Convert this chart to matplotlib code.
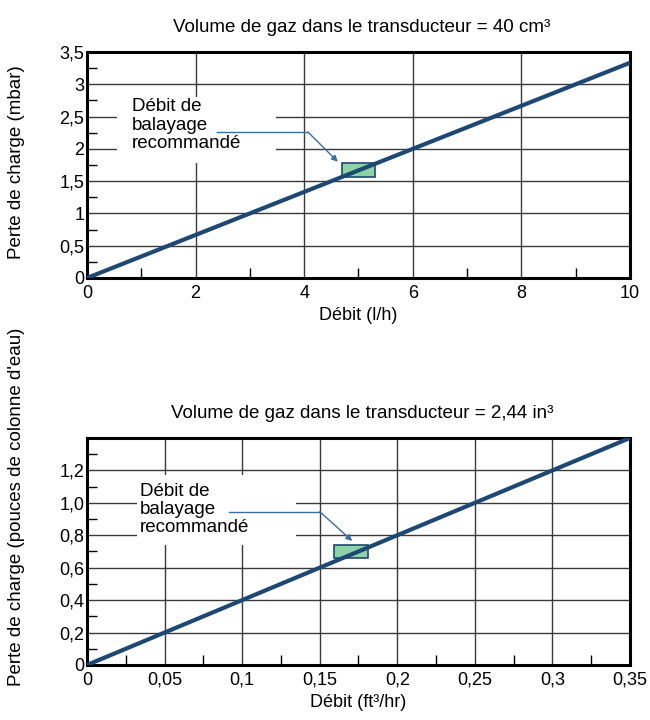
import numpy as np
import matplotlib.pyplot as plt
from matplotlib.patches import Rectangle
from matplotlib.ticker import MultipleLocator, FixedLocator

plt.rcParams['font.family'] = ['Liberation Sans', 'DejaVu Sans']

# metric chart
flow_lh = [0, 10]
dp_mbar = [0, 3.333]
xt_top = [0, 2, 4, 6, 8, 10]
xt_top_lab = ["0", "2", "4", "6", "8", "10"]
yt_top = [0, 0.5, 1, 1.5, 2, 2.5, 3, 3.5]
yt_top_lab = ["0", "0,5", "1", "1,5", "2", "2,5", "3", "3,5"]
reco_top = [4.7, 1.57, 0.6, 0.21]      # x, y, w, h
txtbox_top = [0.55, 1.78, 2.93, 1.02]
arrow_top = [(2.39, 2.26), (4.07, 2.26), (4.62, 1.80)]
txt_top = (0.83, 2.78)

# imperial chart
flow_ft = [0, 0.35]
dp_in = [0, 1.4]
xt_bot = [0, 0.05, 0.1, 0.15, 0.2, 0.25, 0.3, 0.35]
xt_bot_lab = ["0", "0,05", "0,1", "0,15", "0,2", "0,25", "0,3", "0,35"]
yt_bot = [0, 0.2, 0.4, 0.6, 0.8, 1.0, 1.2]
yt_bot_lab = ["0", "0,2", "0,4", "0,6", "0,8", "1,0", "1,2"]
reco_bot = [0.159, 0.66, 0.022, 0.08]
txtbox_bot = [0.032, 0.74, 0.103, 0.43]
arrow_bot = [(0.0916, 0.946), (0.150, 0.946), (0.171, 0.765)]
txt_bot = (0.034, 1.12)

navy = '#1d4873'
green = '#8dd3a6'
arrow_c = '#3c6e9c'


def draw(ax, xs, ys, xlim, ylim, xt, xtl, yt, ytl, xminor, yminor,
         reco, tbox, arr, tpos):
    ax.set_xlim(xlim)
    ax.set_ylim(ylim)
    ax.xaxis.set_major_locator(FixedLocator(xt))
    ax.set_xticklabels(xtl)
    ax.yaxis.set_major_locator(FixedLocator(yt))
    ax.set_yticklabels(ytl)
    ax.xaxis.set_minor_locator(MultipleLocator(xminor))
    ax.yaxis.set_minor_locator(MultipleLocator(yminor))
    ax.tick_params(which='major', length=0, labelsize=13)
    ax.tick_params(axis='y', which='major', pad=2)
    ax.tick_params(axis='x', which='major', pad=5)
    ax.tick_params(which='minor', direction='in', length=7, width=1)
    ax.grid(True, which='major', color='#3a3a3a', lw=1)
    ax.set_axisbelow(True)
    for s in ax.spines.values():
        s.set_linewidth(2.2)
    ax.add_patch(Rectangle((tbox[0], tbox[1]), tbox[2], tbox[3],
                           facecolor='white', edgecolor='none', zorder=1.5))
    ax.add_patch(Rectangle((reco[0], reco[1]), reco[2], reco[3],
                           facecolor=green, edgecolor=navy, lw=1.2, zorder=2.5))
    ax.plot(xs, ys, color=navy, lw=3, zorder=3, solid_capstyle='butt')
    ax.plot([arr[0][0], arr[1][0]], [arr[0][1], arr[1][1]], color=arrow_c, lw=1, zorder=3)
    ax.annotate('', xy=arr[2], xytext=arr[1],
                arrowprops=dict(arrowstyle='-|>', color=arrow_c, lw=1,
                                mutation_scale=9, shrinkA=0, shrinkB=0), zorder=3)
    ax.text(tpos[0], tpos[1], "Débit de\nbalayage\nrecommandé", fontsize=13.5,
            va='top', ha='left', linespacing=1.08, zorder=4)


fig = plt.figure(figsize=(6.5, 7.2), dpi=100)
ax1 = fig.add_axes([0.1338, 0.6139, 0.8354, 0.3139])
ax2 = fig.add_axes([0.1338, 0.0764, 0.8354, 0.3153])

draw(ax1, flow_lh, dp_mbar, (0, 10), (0, 3.5), xt_top, xt_top_lab, yt_top, yt_top_lab,
     1, 0.25, reco_top, txtbox_top, arrow_top, txt_top)
draw(ax2, flow_ft, dp_in, (0, 0.35), (0, 1.4), xt_bot, xt_bot_lab, yt_bot, yt_bot_lab,
     0.025, 0.1, reco_bot, txtbox_bot, arrow_bot, txt_bot)

ax1.set_xlabel("Débit (l/h)", fontsize=13, labelpad=4)
ax2.set_xlabel("Débit (ft³/hr)", fontsize=13, labelpad=4)
fig.text(0.557, 0.9625, "Volume de gaz dans le transducteur = 40 cm³", fontsize=13.5,
         ha='center', va='center')
fig.text(0.557, 0.4250, "Volume de gaz dans le transducteur = 2,44 in³", fontsize=13.5,
         ha='center', va='center')
fig.text(0.025, 0.775, "Perte de charge (mbar)", fontsize=13.5, rotation=90,
         ha='center', va='center')
fig.text(0.025, 0.296, "Perte de charge (pouces de colonne d'eau)", fontsize=13.5,
         rotation=90, ha='center', va='center')

fig.savefig('out.png', dpi=100)
